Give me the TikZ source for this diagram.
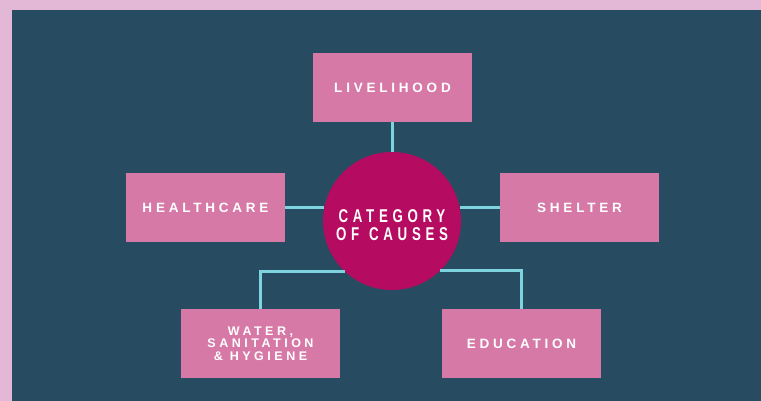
\documentclass[tikz,border=0pt]{standalone}
\usepackage{fontspec}
\usepackage{graphicx}
\newfontfamily\boxfont[LetterSpace=28]{Liberation Sans}
\newfontfamily\circfont[LetterSpace=35]{Liberation Sans}
\definecolor{bgdark}{HTML}{274B60}
\definecolor{bgpink}{HTML}{E2B8D6}
\definecolor{boxpink}{HTML}{D679A6}
\definecolor{circmag}{HTML}{B50B60}
\definecolor{linecyan}{HTML}{7DD3DE}
\newcommand{\narrowtext}[1]{\scalebox{0.72}[1]{#1}}
\tikzset{
	causebox/.style={fill=boxpink,minimum width=159pt,minimum height=69pt,inner sep=0pt,text=white,align=center,font=\boxfont\bfseries\fontsize{13.5}{15}\selectfont},
	causecircle/.style={circle,fill=circmag,minimum size=138pt,inner sep=0pt},
	circtext/.style={text=white,align=center,font=\circfont\bfseries\fontsize{18.5}{17.5}\selectfont},
	link/.style={linecyan,line width=3pt}
}
\begin{document}
\begin{tikzpicture}[x=1pt,y=-1pt]
	
	\fill[bgpink](0,0) rectangle (761,401);
	\fill[bgdark](12,10) rectangle (761,401);
	\useasboundingbox (0,0) rectangle (761,401);
	
	\node[causecircle,label={[circtext,yshift=-4pt]center:\narrowtext{CATEGORY}\\\narrowtext{OF}\hspace{10pt}\narrowtext{CAUSES}}] (cause) at (392,221){};
	
	\node[causebox] (livelihood) at (392.5,87.5){LIVELIHOOD};
	\node[causebox] (healthcare) at (205.5,207.5){HEALTHCARE};
	\node[causebox] (shelter) at (579.5,207.5){SHELTER};
	\node[causebox,font=\boxfont\bfseries\fontsize{12.5}{12.5}\selectfont] (water) at (260.5,343.5){WATER,\\SANITATION\\\& HYGIENE};
	\node[causebox] (education) at (521.5,343.5){EDUCATION};
	
	\draw[link](livelihood.south)--(livelihood.south|-cause.north);
	\draw[link](healthcare.east)--(healthcare.east-|cause.168.7);
	\draw[link](shelter.west)--(shelter.west-|cause.11.3);
	\draw[link](cause.-133.6)-|(water.north);
	\draw[link](cause.-46.4)-|(education.north);
	\end{tikzpicture}
\end{document}
